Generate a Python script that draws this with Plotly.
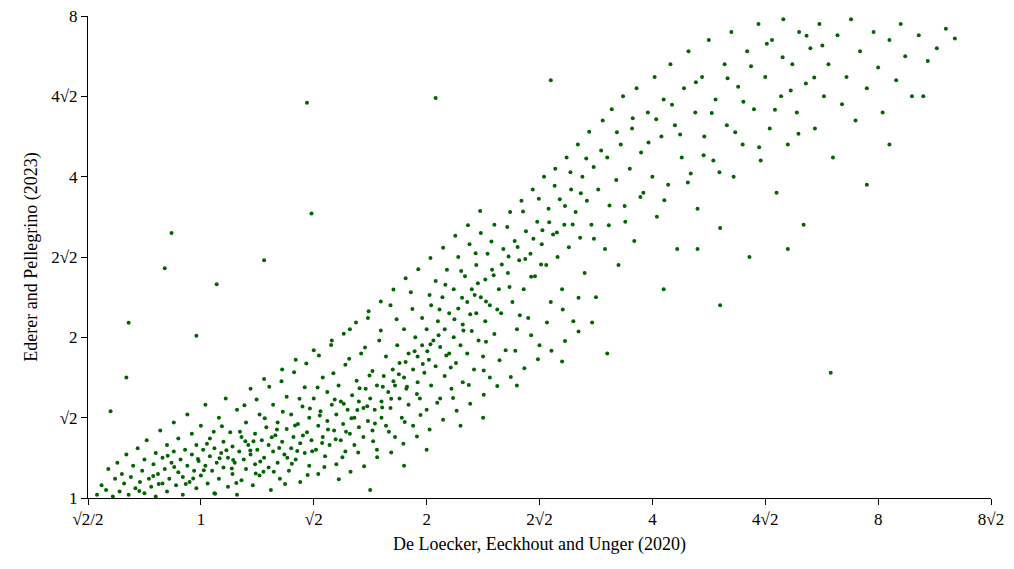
import plotly.graph_objects as go

# log2 coordinates of points (x: De Loecker et al., y: Ederer & Pellegrino)
points = [
(-0.46,0.02),(-0.44,0.08),(-0.42,0.05),(-0.41,0.18),(-0.39,0.01),(-0.38,0.12),(-0.37,0.22),(-0.36,0.04),(-0.35,0.15),(-0.34,0.09),
(-0.33,0.27),(-0.32,0.02),(-0.31,0.13),(-0.30,0.2),(-0.29,0.06),(-0.28,0.31),(-0.27,0.1),(-0.26,0.17),(-0.25,0.24),(-0.25,0.03),
(-0.24,0.36),(-0.23,0.12),(-0.22,0.07),(-0.21,0.21),(-0.20,0.28),(-0.20,0.01),(-0.19,0.15),(-0.18,0.42),(-0.17,0.09),(-0.17,0.25),
(-0.16,0.18),(-0.15,0.33),(-0.15,0.04),(-0.14,0.12),(-0.13,0.22),(-0.12,0.47),(-0.12,0.29),(-0.11,0.08),(-0.10,0.16),(-0.10,0.37),
(-0.09,0.24),(-0.08,0.02),(-0.08,0.13),(-0.07,0.3),(-0.06,0.2),(-0.06,0.52),(-0.05,0.1),(-0.04,0.27),(-0.04,0.4),(-0.03,0.17),
(-0.02,0.06),(-0.02,0.33),(-0.01,0.23),(0.00,0.14),(0.00,0.45),(0.01,0.3),(0.02,0.2),(0.02,0.58),(0.03,0.09),(0.04,0.26),
(0.04,0.37),(0.05,0.17),(0.06,0.03),(0.06,0.31),(0.07,0.22),(0.08,0.5),(0.08,0.12),(0.09,0.28),(0.10,0.35),(0.10,0.19),
(0.11,0.62),(0.12,0.07),(0.12,0.25),(0.13,0.41),(0.14,0.15),(0.14,0.32),(0.15,0.22),(0.16,0.55),(0.16,0.02),(0.17,0.29),
(0.18,0.38),(0.18,0.11),(0.19,0.24),(0.20,0.47),(0.20,0.18),(0.21,0.33),(0.22,0.68),(0.22,0.27),(0.23,0.08),(0.24,0.4),
(0.24,0.21),(0.25,0.3),(0.26,0.52),(0.26,0.14),(0.27,0.36),(0.28,0.25),(0.28,0.74),(0.29,0.44),(0.30,0.19),(0.30,0.33),
(0.31,0.05),(0.32,0.29),(0.32,0.58),(0.33,0.39),(0.34,0.22),(0.34,0.47),(0.35,0.12),(0.36,0.35),(0.36,0.8),(0.37,0.27),
(0.38,0.43),(0.38,0.63),(0.39,0.17),(0.40,0.31),(0.40,0.52),(0.41,0.38),(0.42,0.24),(0.42,0.86),(0.43,0.46),(0.44,0.1),
(0.44,0.34),(0.45,0.57),(0.46,0.28),(0.46,0.69),(0.47,0.41),(0.48,0.2),(0.48,0.5),(0.49,0.36),(0.50,0.62),(0.50,0.92),
(0.51,0.3),(0.52,0.45),(0.52,0.15),(0.53,0.54),(0.54,0.38),(0.54,0.75),(0.55,0.26),(0.56,0.48),(0.56,0.66),(0.57,0.33),
(0.58,0.58),(0.58,0.98),(0.59,0.42),(0.60,0.21),(0.60,0.52),(0.61,0.7),(0.62,0.36),(0.62,0.6),(0.63,0.46),(0.64,0.83),
(0.64,0.29),(0.65,0.55),(0.66,0.4),(0.66,1.05),(0.67,0.64),(0.68,0.5),(0.68,0.33),(0.69,0.73),(0.70,0.44),(0.70,0.6),
(0.71,0.9),(0.72,0.38),(0.72,0.56),(0.73,0.68),(0.74,0.48),(0.74,1.12),(0.75,0.62),(0.76,0.42),(0.76,0.79),(0.77,0.55),
(0.78,0.7),(0.78,0.3),(0.79,0.98),(0.80,0.6),(0.80,0.5),(0.81,0.76),(0.82,0.45),(0.82,0.88),(0.83,0.66),(0.84,1.2),
(0.84,0.56),(0.85,0.8),(0.86,0.38),(0.86,0.7),(0.87,0.95),(0.88,0.62),(0.88,0.84),(0.89,0.5),(0.90,0.75),(0.90,1.05),
(0.91,0.68),(0.92,0.9),(0.92,0.58),(0.93,1.28),(0.94,0.8),(0.94,0.45),(0.95,1.0),(0.96,0.72),(0.96,0.88),(0.97,0.62),
(0.98,1.12),(0.98,0.95),(0.99,0.78),(1.00,1.05),(1.00,0.55),(1.01,0.86),(1.02,1.2),(1.02,0.7),(1.03,0.98),(1.04,1.35),
(1.04,0.82),(1.05,1.1),(1.06,0.62),(1.06,0.94),(1.07,1.25),(1.08,0.76),(1.08,1.05),(1.09,1.42),(1.10,0.9),(1.10,1.15),
(1.11,0.68),(1.12,1.0),(1.12,1.3),(1.13,0.84),(1.14,1.18),(1.14,1.5),(1.15,0.95),(1.16,1.08),(1.16,0.72),(1.17,1.38),
(1.18,1.22),(1.18,0.9),(1.19,1.58),(1.20,1.04),(1.20,1.3),(1.21,0.8),(1.22,1.15),(1.22,1.45),(1.23,0.98),(1.24,1.25),
(1.24,1.65),(1.25,0.88),(1.26,1.36),(1.26,1.1),(1.27,1.52),(1.28,1.2),(1.28,0.75),(1.29,1.42),(1.30,1.02),(1.30,1.7),
(1.32,1.3),(1.33,1.15),(1.34,1.55),(1.35,0.92),(1.36,1.4),(1.37,1.78),(1.38,1.22),(1.39,1.6),(1.40,1.05),(1.41,1.48),
(1.42,1.85),(1.43,1.3),(1.44,1.66),(1.45,1.12),(1.46,1.52),(1.47,1.92),(1.48,1.38),(1.49,1.72),(1.50,0.95),(1.51,1.58),
(1.52,2.0),(1.53,1.45),(1.54,1.8),(1.55,1.22),(1.56,1.64),(1.57,2.05),(1.58,1.5),(1.59,1.86),(1.60,1.3),(1.61,1.7),
(1.62,2.12),(1.63,1.56),(1.64,1.92),(1.65,1.1),(1.66,1.78),(1.67,2.2),(1.68,1.62),(1.69,2.0),(1.70,1.4),(1.71,1.85),
(1.72,2.28),(1.73,1.7),(1.74,2.06),(1.75,1.25),(1.76,1.92),(1.78,2.35),(1.79,1.55),(1.80,2.12),(1.81,1.82),(1.82,2.42),
(1.84,1.98),(1.85,1.45),(1.86,2.2),(1.87,2.5),(1.88,1.72),(1.90,2.05),(1.91,2.3),(1.92,1.6),(1.93,2.55),(1.95,2.15),
(1.96,1.9),(1.98,2.4),(2.00,2.0),(2.01,2.62),(2.02,1.75),(2.04,2.25),(2.05,2.48),(2.07,1.95),(2.08,2.7),(2.10,2.32),
(2.11,1.55),(2.13,2.12),(2.14,2.55),(2.16,2.78),(2.17,2.02),(2.19,2.4),(2.20,1.8),(2.22,2.62),(2.23,2.25),(2.25,2.85),
(2.27,2.1),(2.28,2.48),(2.30,1.68),(2.32,2.7),(2.33,2.32),(2.35,2.9),(2.36,2.0),(2.38,2.56),(2.40,2.2),(2.42,2.78),
(2.43,1.5),(2.45,2.42),(2.47,2.95),(2.48,2.1),(2.50,2.62),(2.52,2.3),(2.53,2.85),(2.55,1.9),(2.57,2.5),(2.58,2.98),
(2.60,2.2),(2.62,2.7),(2.64,2.4),(2.65,2.9),(2.67,1.7),(2.68,2.58),(2.70,2.8),(2.72,2.3),(2.74,2.95),(2.76,2.5),
(2.78,2.7),(2.80,2.12),(2.82,2.88),(2.84,2.45),(2.86,2.62),(2.88,2.98),(2.90,2.35),(2.92,2.78),(2.95,2.55),(2.98,2.9),
(3.00,2.68),(3.02,2.4),(3.05,2.85),(3.08,2.6),(3.10,2.95),(3.12,2.75),(3.15,2.5),(3.18,2.88),(3.22,2.72),(3.26,2.8),
(3.30,2.92),(3.34,2.86),(-0.32,1.09),(-0.13,1.65),(-0.16,1.43),(0.07,1.33),(0.47,2.46),(0.49,1.77),(1.04,2.49),(2.79,0.78),
(0.28,1.48),(-0.02,1.01),(-0.33,0.75),(-0.40,0.54),(1.55,2.6),(1.8,0.9),(2.05,1.3),(1.25,0.5),(1.0,0.3),(0.9,0.2),
(1.4,0.7),(2.3,1.2),(2.6,1.55),(3.05,2.2),(3.2,2.5),(2.95,1.95),(1.6,0.85),(0.75,0.05),(1.15,0.45),(2.2,1.55),
]
extra_points = [
(-0.273,0.043),(-0.187,0.087),(-0.118,0.193),(-0.034,0.121),(0.027,0.338),(0.083,0.247),(0.137,0.183),(0.173,0.412),(0.219,0.296),(0.263,0.227),
(0.314,0.378),(0.347,0.311),(0.383,0.251),(0.417,0.452),(0.452,0.389),(0.493,0.291),(0.527,0.513),(0.563,0.427),(0.597,0.366),(0.633,0.587),
(0.667,0.497),(0.703,0.683),(0.737,0.571),(0.771,0.463),(0.806,0.693),(0.843,0.617),(0.877,0.771),(0.913,0.693),(0.947,0.913),(0.983,0.834),
(1.017,0.957),(1.053,1.013),(1.087,0.887),(1.123,1.113),(1.157,1.247),(1.193,1.143),(1.227,1.337),(1.263,1.223),(1.297,1.387),(1.333,1.453),
(1.367,1.313),(1.403,1.563),(1.437,1.487),(1.473,1.613),(1.507,1.453),(1.543,1.717),(1.577,1.653),(1.613,1.817),(1.647,1.703),(1.683,1.897),
(-0.211,0.137),(-0.147,0.263),(-0.067,0.087),(0.013,0.173),(0.057,0.413),(0.113,0.297),(0.157,0.093),(0.197,0.353),(0.243,0.153),(0.283,0.497),
(0.323,0.163),(0.363,0.537),(0.403,0.213),(0.437,0.617),(0.473,0.143),(0.517,0.687),(0.547,0.193),(0.587,0.777),(0.627,0.253),(0.657,0.867),
(0.697,0.283),(0.727,0.937),(0.763,0.353),(0.797,1.043),(0.833,0.413),(0.867,1.113),(0.903,0.473),(0.937,1.177),(0.973,0.517),(1.013,1.263),
(1.047,0.593),(1.083,1.327),(1.117,0.623),(1.153,1.413),(1.187,0.703),(1.217,1.523),(1.253,0.793),(1.287,1.597),(1.323,0.857),(1.357,1.687),
(1.393,0.917),(1.427,1.783),(1.463,1.013),(1.497,1.863),(1.533,1.093),(1.567,1.943),(1.603,1.173),(1.637,2.027),(1.673,1.247),(1.707,2.113),
(0.193,0.577),(0.247,0.613),(0.303,0.693),(0.357,0.727),(0.413,0.783),(0.467,0.837),(0.523,0.887),(0.577,0.953),(0.633,1.023),(0.687,1.093),
(0.743,1.163),(0.797,1.223),(0.853,1.297),(0.907,1.367),(0.963,1.423),(1.017,1.493),(1.073,1.557),(1.127,1.633),(1.183,1.697),(1.237,1.787),
(0.611,0.117),(0.663,0.163),(0.723,0.197),(0.781,0.253),(0.843,0.283),(0.897,0.337),(0.957,0.383),(1.013,0.427),(1.073,0.487),(1.133,0.543),
(1.193,0.587),(1.253,0.643),(1.313,0.697),(1.373,0.753),(1.433,0.807),(1.493,0.863),(1.553,0.917),(1.613,0.977),(1.673,1.037),(1.733,1.093),
(1.741,1.613),(1.773,2.163),(1.807,1.697),(1.843,2.277),(1.877,1.817),(1.913,2.363),(1.947,1.873),(1.983,2.213),(2.017,2.357),(2.053,1.853),
(2.087,2.447),(2.123,2.263),(2.157,1.963),(2.193,2.587),(2.227,2.133),(2.263,2.397),(2.297,2.027),(2.333,2.613),(2.367,2.277),(2.403,2.467),
(2.437,2.687),(2.473,2.183),(2.507,2.827),(2.543,2.417),(2.577,2.743),(2.613,2.537),(2.647,2.267),(2.683,2.877),(2.717,2.617),(2.753,2.817),
(0.063,0.027),(-0.013,0.243),(0.093,0.447),(0.143,0.237),(0.233,0.353),(0.277,0.163),(0.337,0.427),(0.373,0.087),(0.427,0.293),(0.483,0.557),
(0.537,0.343),(0.593,0.613),(0.643,0.413),(0.693,0.547),(0.747,0.763),(0.803,0.563),(0.853,0.727),(0.907,0.847),(0.957,0.647),(1.003,0.913),
(1.057,1.173),(1.107,0.813),(1.163,1.043),(1.213,1.263),(1.263,0.973),(1.313,1.173),(1.363,1.503),(1.413,1.137),(1.463,1.377),(1.513,1.667),
]
x_log = [p[0] for p in points + extra_points]
y_log = [p[1] for p in points + extra_points]

tick_vals_x = [-0.5, 0, 0.5, 1, 1.5, 2, 2.5, 3, 3.5]
tick_text_x = ["√2/2", "1", "√2", "2", "2√2", "4", "4√2", "8", "8√2"]
tick_vals_y = [0, 0.5, 1, 1.5, 2, 2.5, 3]
tick_text_y = ["1", "√2", "2", "2√2", "4", "4√2", "8"]

fig = go.Figure(go.Scatter(
    x=x_log, y=y_log, mode="markers",
    marker=dict(color="#006400", size=4, line=dict(width=0)),
    hoverinfo="skip", cliponaxis=False))

font = dict(family="Liberation Serif, DejaVu Serif, serif", size=18, color="black")
tfont = dict(family="Liberation Serif, DejaVu Serif, serif", size=17, color="black")
axis_common = dict(showgrid=False, zeroline=False, showline=True, linecolor="black",
                   linewidth=1, ticks="outside", ticklen=6, tickcolor="black",
                   tickfont=tfont, mirror=False, ticklabeloverflow="allow")
fig.update_layout(
    width=1014, height=569, plot_bgcolor="white", paper_bgcolor="white",
    margin=dict(l=80, r=31, t=8, b=79, autoexpand=False), showlegend=False, font=font,
    xaxis=dict(range=[-0.5, 3.5], tickvals=tick_vals_x, ticktext=tick_text_x,
               title=dict(text="De Loecker, Eeckhout and Unger (2020)", font=font, standoff=8),
               **axis_common),
    yaxis=dict(range=[0, 3], tickvals=tick_vals_y, ticktext=tick_text_y,
               title=dict(text="Ederer and Pellegrino (2023)", font=font, standoff=8),
               **axis_common),
)
fig.write_html("out.html")
